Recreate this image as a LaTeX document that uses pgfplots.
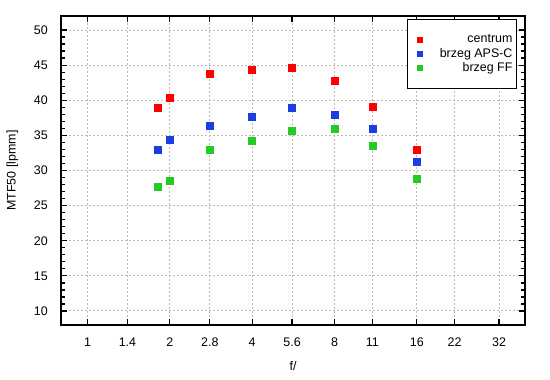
\documentclass[border=0pt]{standalone}
\usepackage{pgfplots}
\pgfplotsset{compat=1.18}
\usepackage{fontspec}
\setmainfont{Liberation Sans}
\definecolor{cred}{HTML}{FF0000}
\definecolor{cblue}{HTML}{1A3EE3}
\definecolor{cgreen}{HTML}{22CC22}
\pgfplotsset{sq/.style={only marks, mark=square*, mark size=3.5bp, color=#1, mark options={draw=none, fill=#1},
  legend image code/.code={\path[draw=none,fill=none] (0bp,-3bp) rectangle (28bp,3bp); \fill[#1,draw=none] (5bp,-3bp) rectangle (11bp,3bp);}}}
\begin{document}
\begin{tikzpicture}
\useasboundingbox (0,0) rectangle (550bp,380bp);
\fill[white] (0,0) rectangle (550bp,380bp);
\begin{axis}[
  at={(61bp,55bp)}, anchor=south west,
  scale only axis, width=464bp, height=309bp,
  xmode=log, log basis x=2,
  xmin=0.8, xmax=39.8, ymin=8, ymax=52,
  xtick={1,1.4,2,2.8,4,5.6,8,11,16,22,32},
  xticklabels={1,1.4,2,2.8,4,5.6,8,11,16,22,32},
  ytick={10,15,...,50},
  minor y tick num=4,
  log ticks with fixed point,
  /pgf/number format/assume math mode=true,
  font=\fontsize{12.5}{15}\selectfont,
  tick align=inside,
  major tick length=6bp, minor tick length=4bp,
  tick style={black, line width=1.3bp},
  axis line style={line width=1.5bp},
  xminorticks=false,
  grid=major,
  major grid style={color=black!28, line width=1bp, dash pattern=on 2bp off 2bp},
  xticklabel style={anchor=center, yshift=-17.5bp},
  yticklabel style={anchor=east, inner sep=0pt, xshift=-13bp},
  xlabel={f/},
  ylabel={MTF50 [lpmm]},
  every axis x label/.style={at={(axis description cs:0.5,0)}, anchor=center, yshift=-41bp},
  every axis y label/.style={at={([xshift=-48.5bp]axis description cs:0,0.5)}, anchor=center, rotate=90},
  legend cell align=right,
  legend style={at={(0.983,0.99)}, anchor=north east, draw=black, line width=1.3bp,
    font=\fontsize{12.5}{15}\selectfont, inner xsep=4bp, inner ysep=14.5bp, row sep=3bp,
    nodes={inner ysep=0.5bp, inner xsep=0bp}},
]
\addplot[sq=cred] coordinates {
(1.8,38.9) (2,40.3) (2.8,43.8) (4,44.4) (5.6,44.7) (8,42.8) (11,39.1) (16,33.0)};
\addlegendentry{centrum}
\addplot[sq=cblue] coordinates {
(1.8,32.9) (2,34.45) (2.8,36.4) (4,37.6) (5.6,39.0) (8,37.9) (11,35.9) (16,31.2)};
\addlegendentry{brzeg APS-C}
\addplot[sq=cgreen] coordinates {
(1.8,27.7) (2,28.6) (2.8,33.0) (4,34.2) (5.6,35.7) (8,35.9) (11,33.6) (16,28.9)};
\addlegendentry{brzeg FF}
\end{axis}
\end{tikzpicture}
\end{document}
